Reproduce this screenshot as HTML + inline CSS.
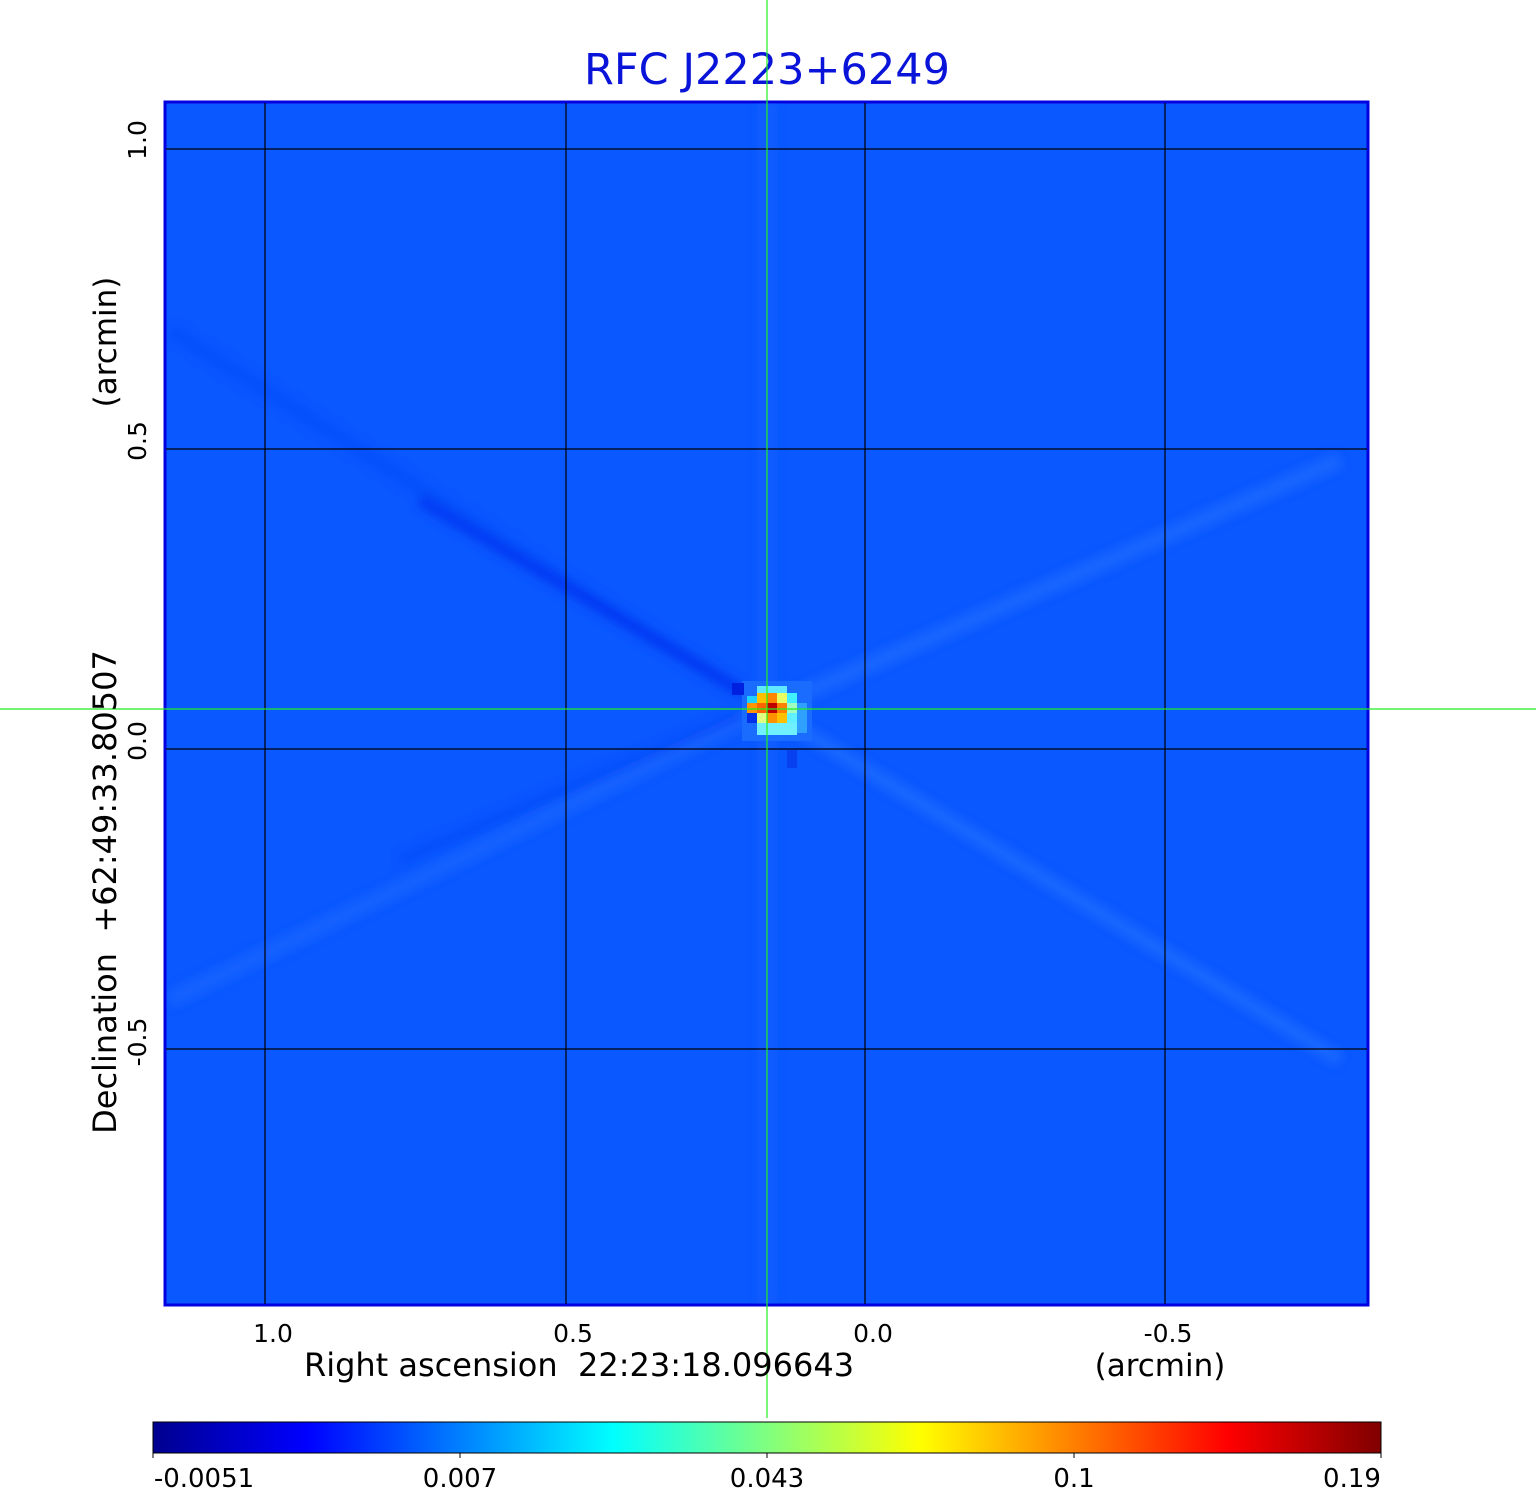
<!DOCTYPE html>
<html><head><meta charset="utf-8"><style>
html,body{margin:0;padding:0;background:#fff;}
svg{display:block;font-family:"DejaVu Sans","Liberation Sans",sans-serif;}
</style></head><body>
<svg width="1536" height="1511" viewBox="0 0 1536 1511" xmlns="http://www.w3.org/2000/svg">
<defs>
<linearGradient id="jet" x1="0" x2="1" y1="0" y2="0">
<stop offset="0" stop-color="#00008f"/>
<stop offset="0.125" stop-color="#0000ff"/>
<stop offset="0.375" stop-color="#00ffff"/>
<stop offset="0.625" stop-color="#ffff00"/>
<stop offset="0.875" stop-color="#ff0000"/>
<stop offset="1" stop-color="#800000"/>
</linearGradient>
<clipPath id="pc"><rect x="166" y="103" width="1201" height="1201"/></clipPath>
<filter id="bl"><feGaussianBlur stdDeviation="5"/></filter>
</defs>
<text x="767" y="84" font-size="43" fill="#0a14d8" text-anchor="middle">RFC J2223+6249</text>
<rect x="165" y="102" width="1203" height="1203" fill="#0a58ff" stroke="#0000e0" stroke-width="3"/>
<g clip-path="url(#pc)" filter="url(#bl)">
<line x1="170" y1="330" x2="767" y2="709" stroke="#0848f8" stroke-width="14" opacity="0.5"/>
<line x1="420" y1="500" x2="740" y2="690" stroke="#0830f0" stroke-width="12" opacity="0.7"/>
<line x1="767" y1="709" x2="1340" y2="1060" stroke="#2a78ff" stroke-width="14" opacity="0.5"/>
<line x1="170" y1="1000" x2="767" y2="709" stroke="#2a70ff" stroke-width="16" opacity="0.4"/>
<line x1="767" y1="709" x2="1340" y2="460" stroke="#2a78ff" stroke-width="16" opacity="0.45"/>
<line x1="400" y1="860" x2="740" y2="715" stroke="#0840f5" stroke-width="10" opacity="0.5"/>
<rect x="757" y="103" width="20" height="1200" fill="#1a66ff" opacity="0.35"/>
</g>
<g>
<rect x="742" y="681" width="70" height="60" fill="#1a6cff"/>
<rect x="757" y="686" width="30" height="10" fill="#60e8ff"/>
<rect x="747" y="696" width="10" height="10" fill="#20d0ff"/>
<rect x="757" y="693" width="10" height="10" fill="#ffc000"/>
<rect x="767" y="693" width="10" height="10" fill="#ff8400"/>
<rect x="777" y="693" width="10" height="10" fill="#e8ff60"/>
<rect x="787" y="693" width="10" height="10" fill="#40f0ff"/>
<rect x="747" y="703" width="10" height="10" fill="#ff9400"/>
<rect x="757" y="703" width="10" height="10" fill="#ff6400"/>
<rect x="767" y="703" width="10" height="10" fill="#c00000"/>
<rect x="777" y="703" width="10" height="10" fill="#ff8000"/>
<rect x="787" y="703" width="10" height="10" fill="#a0ffc0"/>
<rect x="747" y="713" width="10" height="10" fill="#0030e8"/>
<rect x="757" y="713" width="10" height="10" fill="#e0ff80"/>
<rect x="767" y="713" width="10" height="10" fill="#ff9000"/>
<rect x="777" y="713" width="10" height="10" fill="#ffc000"/>
<rect x="787" y="713" width="10" height="10" fill="#60f0ff"/>
<rect x="757" y="723" width="40" height="12" fill="#70f0ff"/>
<rect x="797" y="703" width="10" height="30" fill="#30a0ff"/>
<rect x="732" y="683" width="12" height="12" fill="#0020e0"/>
<rect x="787" y="750" width="10" height="18" fill="#0840f0"/>
</g>
<g stroke="#000" stroke-width="1.2">
<line x1="265" y1="103" x2="265" y2="1304"/>
<line x1="566" y1="103" x2="566" y2="1304"/>
<line x1="865" y1="103" x2="865" y2="1304"/>
<line x1="1165" y1="103" x2="1165" y2="1304"/>
<line x1="166" y1="149" x2="1367" y2="149"/>
<line x1="166" y1="449" x2="1367" y2="449"/>
<line x1="166" y1="749" x2="1367" y2="749"/>
<line x1="166" y1="1049" x2="1367" y2="1049"/>
</g>
<g stroke="#22ee22" stroke-width="1.2">
<line x1="767" y1="0" x2="767" y2="1418"/>
<line x1="0" y1="709" x2="1536" y2="709"/>
</g>
<g font-size="25" fill="#000" text-anchor="middle">
<text x="273" y="1342">1.0</text>
<text x="573" y="1342">0.5</text>
<text x="873" y="1342">0.0</text>
<text x="1168" y="1342">-0.5</text>
<text x="1160" y="1376" font-size="31">(arcmin)</text>
<text x="579" y="1376" font-size="32">Right ascension&#160; 22:23:18.096643</text>
<text transform="translate(146,140) rotate(-90)">1.0</text>
<text transform="translate(146,441) rotate(-90)">0.5</text>
<text transform="translate(146,741) rotate(-90)">0.0</text>
<text transform="translate(146,1042) rotate(-90)">-0.5</text>
<text transform="translate(116,342) rotate(-90)" font-size="31">(arcmin)</text>
<text transform="translate(116,892) rotate(-90)" font-size="32">Declination&#160; +62:49:33.80507</text>
</g>
<rect x="153" y="1422" width="1228" height="31" fill="url(#jet)" stroke="#000" stroke-width="1"/>
<g stroke="#000" stroke-width="1">
<line x1="153" y1="1453" x2="153" y2="1458"/><line x1="460" y1="1453" x2="460" y2="1458"/>
<line x1="767" y1="1453" x2="767" y2="1458"/><line x1="1074" y1="1453" x2="1074" y2="1458"/>
<line x1="1381" y1="1453" x2="1381" y2="1458"/>
</g>
<g font-size="26" fill="#000" text-anchor="middle">
<text x="204" y="1487">-0.0051</text>
<text x="460" y="1487">0.007</text>
<text x="767" y="1487">0.043</text>
<text x="1074" y="1487">0.1</text>
<text x="1352" y="1487">0.19</text>
</g>
</svg>
</body></html>
